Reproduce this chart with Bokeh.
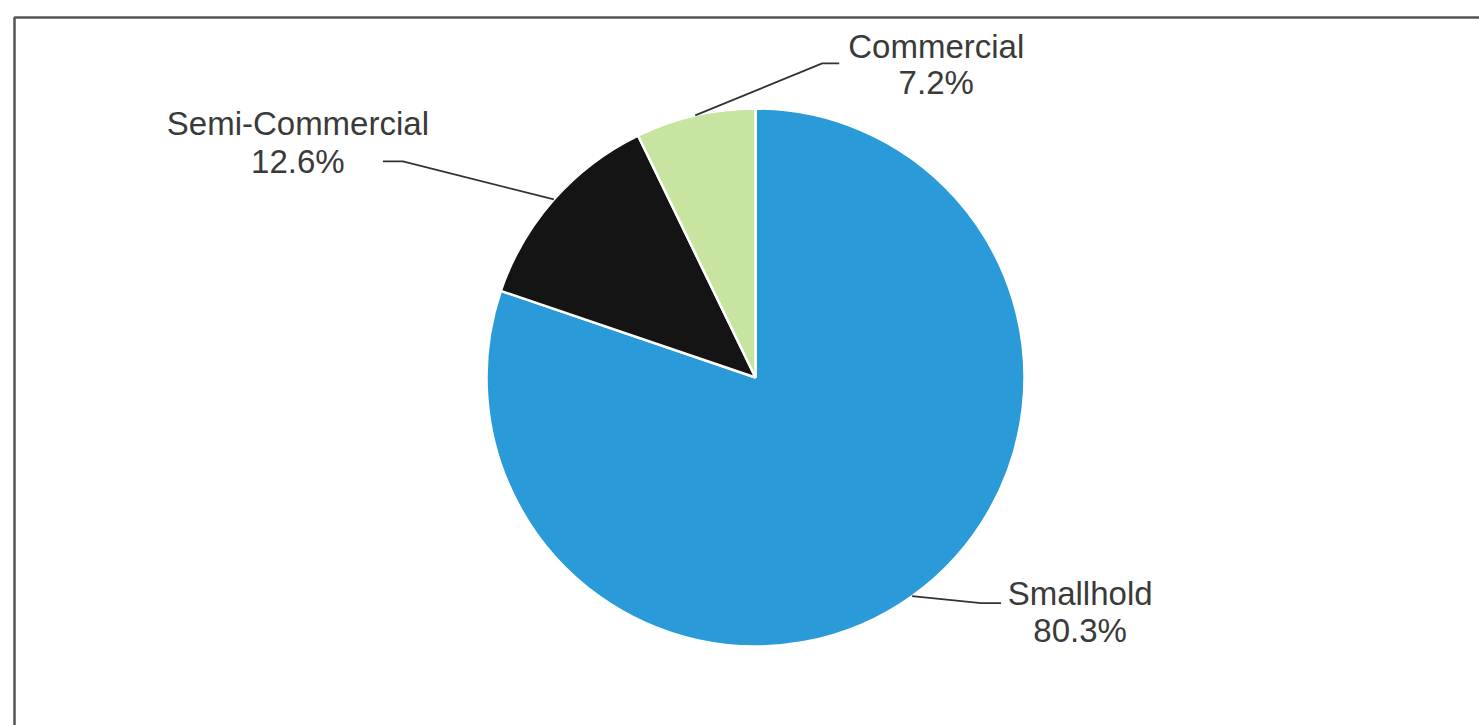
import math
from bokeh.plotting import figure
from bokeh.models import Range1d, ColumnDataSource
from bokeh.core.properties import value
from bokeh.embed import file_html
from bokeh.resources import INLINE

# ---- data ----
categories = ["Smallhold", "Semi-Commercial", "Commercial"]
shares = [80.3, 12.6, 7.2]
pct_labels = ["80.3%", "12.6%", "7.2%"]
colors = ["#2B9AD8", "#141414", "#C7E5A1"]

# ---- layout (pixels) ----
W, H = 1479, 725
cx, cy, R = 755, 348, 269
# per-slice leader geometry: elbow offset from edge point, horizontal tail, label offset from tail end
elbow = [(69, -7), (-151, 38), (127, 52)]
tail = [20, -20, 17]
label_dx = [79, -85, 97]
label_dy1 = [10, 38, 17]     # first line above tail end
label_dy2 = [-27, 0, -19]    # second line

p = figure(width=W, height=H, x_range=Range1d(0, W), y_range=Range1d(0, H),
           output_backend="svg", toolbar_location=None,
           x_axis_location=None, y_axis_location=None, min_border=0)
p.grid.visible = False
p.outline_line_color = None
p.background_fill_color = "white"
p.border_fill_color = "white"

# frame (partial, as in reference)
p.line(x=[14, 14, W + 10], y=[-10, 708, 708], line_color="#555555", line_width=2.5)

total = sum(shares)
starts, ends = [], []
a = math.pi / 2
for s in shares:
    b = a - s / total * 2 * math.pi
    starts.append(b)
    ends.append(a)
    a = b

src = ColumnDataSource(dict(start=starts, end=ends, color=colors))
p.wedge(x=cx, y=cy, radius=R, start_angle="start", end_angle="end",
        fill_color="color", line_color="white", line_width=2.5, source=src)

font = value("Liberation Sans")
for i, cat in enumerate(categories):
    mid = (starts[i] + ends[i]) / 2
    ex, ey = cx + R * math.cos(mid), cy + R * math.sin(mid)
    bx, by = ex + elbow[i][0], ey + elbow[i][1]
    tx = bx + tail[i]
    p.line(x=[ex, bx, tx], y=[ey, by, by], line_color="#333333", line_width=1.8)
    lx = tx + label_dx[i]
    p.text(x=[lx], y=[by + label_dy1[i]], text=[cat], text_font=font,
           text_font_size="33px", text_color="#3a3a3a",
           text_align="center", text_baseline="middle")
    p.text(x=[lx], y=[by + label_dy2[i]], text=[pct_labels[i]], text_font=font,
           text_font_size="33px", text_color="#3a3a3a",
           text_align="center", text_baseline="middle")

open("out.html", "w").write(file_html(p, INLINE))
